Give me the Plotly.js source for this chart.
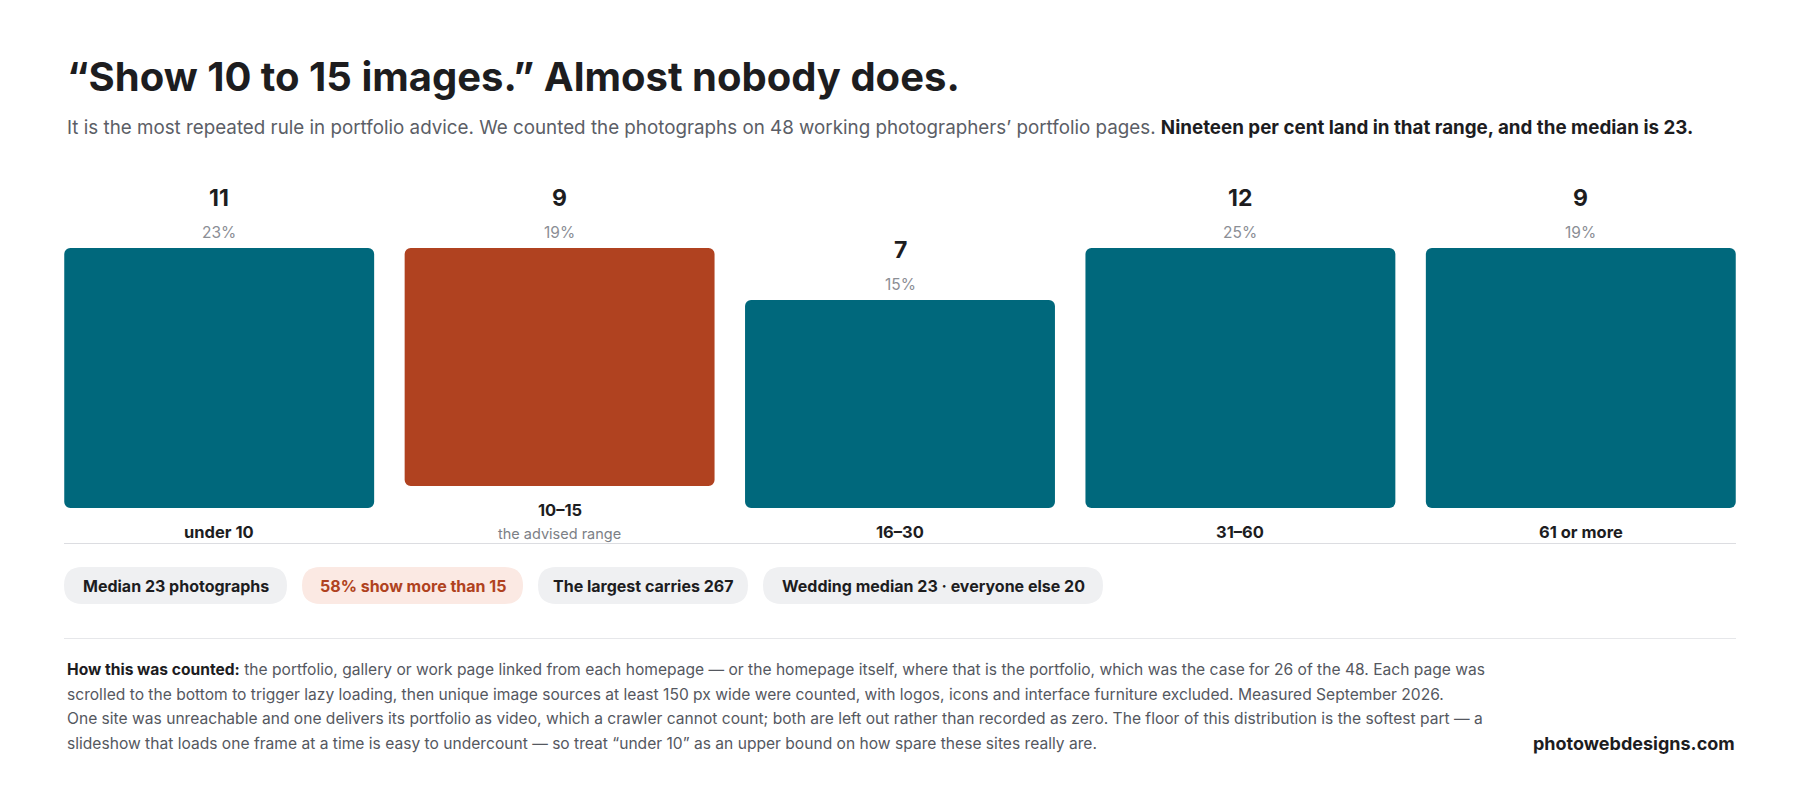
<!DOCTYPE html>
<html>
<head>
<meta charset="utf-8">
<script src="https://cdn.plot.ly/plotly-3.0.1.min.js"></script>
<style>
  html, body { margin: 0; padding: 0; background: #ffffff; }
  #chart { width: 1800px; height: 798px; }
</style>
</head>
<body>
<div id="chart"></div>
<script>
// --- data ---
const categories = ["under 10", "10–15", "16–30", "31–60", "61 or more"];
const siteCounts = [11, 9, 7, 12, 9];
const shareLabels = ["23%", "19%", "15%", "25%", "19%"];
const categoryNotes = ["", "the advised range", "", "", ""];
const highlighted = [false, true, false, false, false];

const chipTexts = [
  "Median 23 photographs",
  "58% show more than 15",
  "The largest carries 267",
  "Wedding median 23 · everyone else 20",
];
const chipHighlight = [false, true, false, false];

const titleText = "“Show 10 to 15 images.” Almost nobody does.";
const subtitleText =
  "It is the most repeated rule in portfolio advice. We counted the photographs on 48 working photographers’ portfolio pages. " +
  "<span style='color:#1d1d1f'><b>Nineteen per cent land in that range, and the median is 23.</b></span>";
const noteLines = [
  "<span style='color:#1d1d1f'><b>How this was counted:</b></span> the portfolio, gallery or work page linked from each homepage — or the homepage itself, where that is the portfolio, which was the case for 26 of the 48. Each page was",
  "scrolled to the bottom to trigger lazy loading, then unique image sources at least 150 px wide were counted, with logos, icons and interface furniture excluded. Measured September 2026.",
  "One site was unreachable and one delivers its portfolio as video, which a crawler cannot count; both are left out rather than recorded as zero. The floor of this distribution is the softest part — a",
  "slideshow that loads one frame at a time is easy to undercount — so treat “under 10” as an upper bound on how spare these sites really are.",
];
const sourceText = "photowebdesigns.com";

// --- layout constants (pixels) ---
const W = 1800, H = 798;
const FONT = "Inter, 'Open Sans', sans-serif";
const INK = "#1d1d1f";
const MUTED = "#5b5e66";
const TEAL = "#00687c";
const RUST = "#b04220";

const plotLeft = 49, plotRight = 1751;
const plotBottom = 508, plotTop = 236;
const pxPerSite = 29.7;        // drawn scale of the bars
const columnCapPx = 260;       // tallest a bar can grow inside its column
const noteLiftPx = 22;         // a two line label pushes its bar up

const chipBoxes = [[64, 287], [302, 523], [538, 748], [763, 1103]];
const chipTop = 567, chipBottom = 604;

const px2x = (px) => px / W;
const px2y = (py) => 1 - py / H;

// bars are capped at the column height, like the original layout
const cap = columnCapPx / pxPerSite;
const lift = noteLiftPx / pxPerSite;
const barBase = categoryNotes.map((n) => (n ? lift : 0));
const barLen = siteCounts.map((c, i) => Math.min(c, cap) - barBase[i]);
const barTop = barLen.map((v, i) => v + barBase[i]);

const barTrace = {
  type: "bar",
  x: categories,
  y: barLen,
  base: barBase,
  marker: { color: highlighted.map((h) => (h ? RUST : TEAL)), line: { width: 0 } },
  hoverinfo: "skip",
  showlegend: false,
};

const annotations = [];

annotations.push({
  xref: "paper", yref: "paper", x: px2x(65), y: px2y(77),
  xanchor: "left", yanchor: "middle", showarrow: false,
  text: "<b>" + titleText + "</b>",
  font: { family: FONT, size: 40, color: INK, weight: 800 },
});
annotations.push({
  xref: "paper", yref: "paper", x: px2x(65), y: px2y(127),
  xanchor: "left", yanchor: "middle", showarrow: false,
  text: subtitleText,
  font: { family: FONT, size: 18.8, color: MUTED },
});

categories.forEach((cat, i) => {
  annotations.push({
    x: cat, y: barTop[i], xref: "x", yref: "y", yshift: 50,
    xanchor: "center", yanchor: "middle", showarrow: false,
    text: "<b>" + siteCounts[i] + "</b>",
    font: { family: FONT, size: 23, color: INK },
  });
  annotations.push({
    x: cat, y: barTop[i], xref: "x", yref: "y", yshift: 16,
    xanchor: "center", yanchor: "middle", showarrow: false,
    text: shareLabels[i],
    font: { family: FONT, size: 15.5, color: "#8b8e95" },
  });
  annotations.push({
    x: cat, y: barBase[i], xref: "x", yref: "y", yshift: -24,
    xanchor: "center", yanchor: "middle", showarrow: false,
    text: "<b>" + cat + "</b>",
    font: { family: FONT, size: 16.5, color: INK, weight: 600 },
  });
  if (categoryNotes[i]) {
    annotations.push({
      x: cat, y: barBase[i], xref: "x", yref: "y", yshift: -48,
      xanchor: "center", yanchor: "middle", showarrow: false,
      text: categoryNotes[i],
      font: { family: FONT, size: 14.5, color: "#7c7f86" },
    });
  }
});

const shapes = [];
// baseline rule under the category labels
shapes.push({
  type: "line", xref: "paper", yref: "paper",
  x0: px2x(64), x1: px2x(1736), y0: px2y(543.5), y1: px2y(543.5),
  line: { color: "#dcdde1", width: 1 },
});
// rule above the method note
shapes.push({
  type: "line", xref: "paper", yref: "paper",
  x0: px2x(64), x1: px2x(1736), y0: px2y(638.5), y1: px2y(638.5),
  line: { color: "#e6e7ea", width: 1 },
});

function pillPath(x0, x1, y0, y1) {
  const r = (y1 - y0) / 2;
  const P = (px, py) => px2x(px).toFixed(6) + "," + px2y(py).toFixed(6);
  return (
    "M" + P(x0 + r, y0) +
    " L" + P(x1 - r, y0) +
    " Q" + P(x1, y0) + " " + P(x1, y0 + r) +
    " Q" + P(x1, y1) + " " + P(x1 - r, y1) +
    " L" + P(x0 + r, y1) +
    " Q" + P(x0, y1) + " " + P(x0, y0 + r) +
    " Q" + P(x0, y0) + " " + P(x0 + r, y0) + " Z"
  );
}

chipTexts.forEach((t, i) => {
  const [x0, x1] = chipBoxes[i];
  shapes.push({
    type: "path", xref: "paper", yref: "paper",
    path: pillPath(x0, x1, chipTop, chipBottom),
    fillcolor: chipHighlight[i] ? "#fbe9e3" : "#eff0f2",
    line: { width: 0 },
  });
  annotations.push({
    xref: "paper", yref: "paper",
    x: px2x((x0 + x1) / 2), y: px2y((chipTop + chipBottom) / 2),
    xanchor: "center", yanchor: "middle", showarrow: false,
    text: "<b>" + t + "</b>",
    font: { family: FONT, size: 16, color: chipHighlight[i] ? RUST : INK, weight: 600 },
  });
});

const noteY = [669, 694, 718.5, 743];
noteLines.forEach((line, i) => {
  annotations.push({
    xref: "paper", yref: "paper", x: px2x(65), y: px2y(noteY[i]),
    xanchor: "left", yanchor: "middle", showarrow: false,
    text: line,
    font: { family: FONT, size: 15.6, color: "#55585f" },
  });
});

annotations.push({
  xref: "paper", yref: "paper", x: px2x(1737), y: px2y(743),
  xanchor: "right", yanchor: "middle", showarrow: false,
  text: "<b>" + sourceText + "</b>",
  font: { family: FONT, size: 18, color: INK },
});

const layout = {
  width: W,
  height: H,
  margin: { t: 0, r: 0, b: 0, l: 0 },
  paper_bgcolor: "#ffffff",
  plot_bgcolor: "rgba(0,0,0,0)",
  bargap: 30.5 / 340.5,
  barcornerradius: 6,
  xaxis: {
    domain: [px2x(plotLeft), px2x(plotRight)],
    type: "category",
    showticklabels: false,
    showgrid: false,
    zeroline: false,
    showline: false,
    ticks: "",
    fixedrange: true,
  },
  yaxis: {
    domain: [px2y(plotBottom), px2y(plotTop)],
    range: [0, (plotBottom - plotTop) / pxPerSite],
    showticklabels: false,
    showgrid: false,
    zeroline: false,
    showline: false,
    ticks: "",
    fixedrange: true,
  },
  annotations: annotations,
  shapes: shapes,
  showlegend: false,
};

const config = {
  displayModeBar: false,
  staticPlot: true,
  responsive: false,
};

Plotly.newPlot("chart", [barTrace], layout, config);
</script>
</body>
</html>
